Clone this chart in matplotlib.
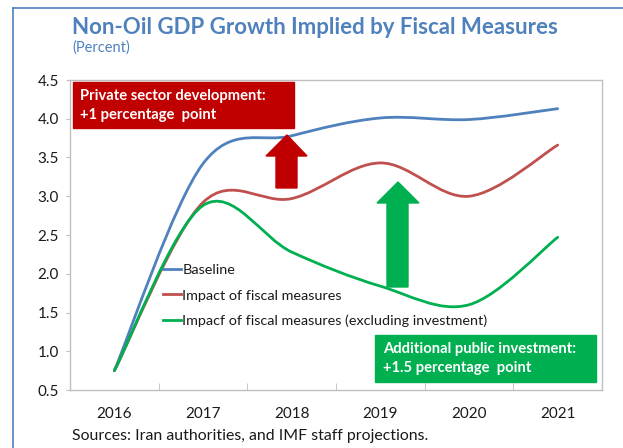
import matplotlib
matplotlib.use('Agg')
import matplotlib.pyplot as plt
from matplotlib.path import Path
from matplotlib.patches import PathPatch, Rectangle, Polygon
from matplotlib.lines import Line2D
import matplotlib.transforms as mtransforms

plt.rcParams['font.family'] = ['Lato', 'DejaVu Sans']

# data
years = ['2016', '2017', '2018', '2019', '2020', '2021']
baseline = [0.75, 3.42, 3.78, 4.01, 3.99, 4.13]
fiscal = [0.75, 2.92, 2.97, 3.43, 3.00, 3.66]
fiscal_ex_inv = [0.75, 2.88, 2.28, 1.84, 1.60, 2.47]
y_ticks = [0.5, 1.0, 1.5, 2.0, 2.5, 3.0, 3.5, 4.0, 4.5]
series_labels = ['Baseline', 'Impact of fiscal measures',
                 'Impacf of fiscal measures (excluding investment)']
series_colors = ['#4F81BD', '#C0504D', '#00B050']

W, H = 623, 448
fig = plt.figure(figsize=(W / 100, H / 100), dpi=100)
# pixel coords (origin top-left) -> figure
px = mtransforms.Affine2D().scale(1 / W, -1 / H).translate(0, 1) + fig.transFigure


def smooth_path(xs, ys):
    """Excel-style smoothed line as cubic bezier segments."""
    n = len(xs)
    verts = [(xs[0], ys[0])]
    codes = [Path.MOVETO]
    for i in range(n - 1):
        x0, y0 = xs[max(i - 1, 0)], ys[max(i - 1, 0)]
        x1, y1 = xs[i], ys[i]
        x2, y2 = xs[i + 1], ys[i + 1]
        x3, y3 = xs[min(i + 2, n - 1)], ys[min(i + 2, n - 1)]
        verts += [(x1 + (x2 - x0) / 6, y1 + (y2 - y0) / 6),
                  (x2 - (x3 - x1) / 6, y2 - (y3 - y1) / 6),
                  (x2, y2)]
        codes += [Path.CURVE4] * 3
    return Path(verts, codes)


ax = fig.add_axes([70 / W, 1 - 390 / H, 532 / W, 310 / H])
xs = list(range(len(years)))
for vals, col in zip([baseline, fiscal, fiscal_ex_inv], series_colors):
    ax.add_patch(PathPatch(smooth_path(xs, vals), facecolor='none',
                           edgecolor=col, lw=2.0, capstyle='round', zorder=3))

ax.set_xlim(-0.5, len(years) - 0.5)
ax.set_ylim(0.5, 4.5)
ax.set_yticks(y_ticks)
ax.set_yticklabels([f'{v:.1f}' for v in y_ticks])
ax.set_xticks(xs)
ax.set_xticklabels(years)
ax.set_xticks([x + 0.5 for x in xs[:-1]], minor=True)
ax.tick_params(axis='x', which='major', length=0, pad=12, labelsize=11, colors='#1a1a1a')
ax.tick_params(axis='x', which='minor', direction='in', length=5, color='#bfbfbf')
ax.tick_params(axis='y', direction='out', length=3, color='#bfbfbf', pad=5,
               labelsize=11, labelcolor='#1a1a1a')
for s in ax.spines.values():
    s.set_color('#bfbfbf')
    s.set_linewidth(1.0)

handles = [Line2D([0], [0], color=c, lw=2.0) for c in series_colors]
fig.legend(handles, series_labels, loc='upper left',
           bbox_to_anchor=(163 / W, 1 - 264 / H), bbox_transform=fig.transFigure,
           frameon=False, fontsize=10.4, handlelength=1.25, handletextpad=0.1,
           labelspacing=0.92, borderpad=0, borderaxespad=0, labelcolor='#1a1a1a')

# annotation boxes and arrows (pixel layout)
red, green = '#C00000', '#00B050'
fig.patches.append(Rectangle((73, 82), 221, 46, transform=px, color=red, zorder=5))
fig.text(80, 96, 'Private sector development:', transform=px, color='white',
         fontsize=10.6, fontweight='bold', va='center', zorder=6)
fig.text(80, 115, '+1 percentage  point', transform=px, color='white',
         fontsize=10.6, fontweight='bold', va='center', zorder=6)
fig.patches.append(Polygon([(287, 135), (307, 156), (297, 156), (297, 188),
                            (276, 188), (276, 156), (266, 156)],
                           transform=px, color=red, zorder=5))

fig.patches.append(Rectangle((375, 335), 221, 47, transform=px, color=green, zorder=5))
fig.text(383, 349, 'Additional public investment:', transform=px, color='white',
         fontsize=10.6, fontweight='bold', va='center', zorder=6)
fig.text(383, 368, '+1.5 percentage  point', transform=px, color='white',
         fontsize=10.6, fontweight='bold', va='center', zorder=6)
fig.patches.append(Polygon([(398, 182), (419, 203), (408, 203), (408, 287),
                            (387, 287), (387, 203), (377, 203)],
                           transform=px, color=green, zorder=5))

# titles and source
title_col = '#4F81BD'
fig.text(72, 28, 'Non-Oil GDP Growth Implied by Fiscal Measures', transform=px,
         color=title_col, fontsize=16, fontweight='bold', va='center')
fig.text(72, 48, '(Percent)', transform=px, color=title_col, fontsize=10.5, va='center')
fig.text(72, 436, 'Sources: Iran authorities, and IMF staff projections.', transform=px,
         color='#1a1a1a', fontsize=11.4, va='center')

# outer frame
fig.lines.append(Line2D([13, 623], [8, 8], transform=px, color='#4F81BD', lw=1.2))
fig.lines.append(Line2D([13, 13], [8, 448], transform=px, color='#4F81BD', lw=1.2))

fig.savefig('out.png', dpi=100)
